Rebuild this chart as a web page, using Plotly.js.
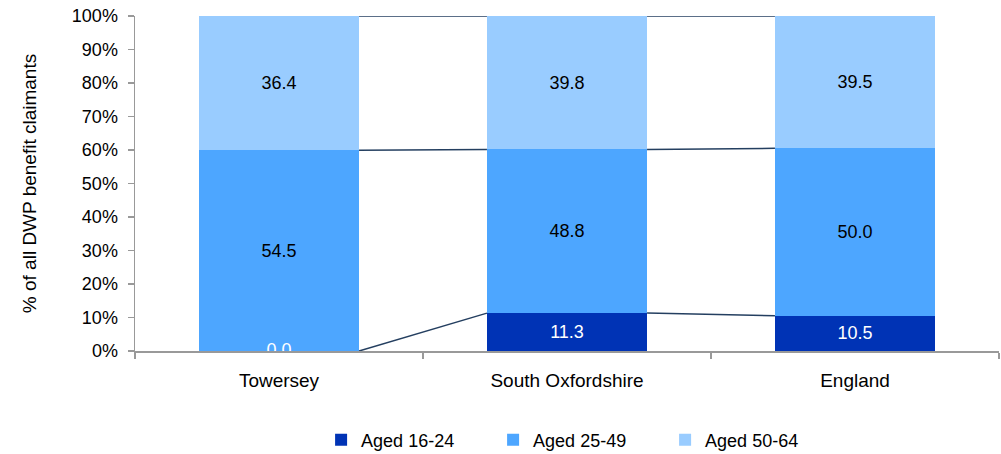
<!DOCTYPE html>
<html>
<head>
<meta charset="utf-8">
<script src="https://cdn.plot.ly/plotly-3.0.1.min.js"></script>
<style>html,body{margin:0;padding:0;background:#fff;}#chart{width:1001px;height:454px;}</style>
</head>
<body>
<div id="chart"></div>
<script>
const categories = ["Towersey", "South Oxfordshire", "England"];
const seriesNames = ["Aged 16-24", "Aged 25-49", "Aged 50-64"];
const aged16_24 = [0.0, 11.3, 10.5];
const aged25_49 = [54.5, 48.8, 50.0];
const aged50_64 = [36.4, 39.8, 39.5];
const yTickVals = [0, 10, 20, 30, 40, 50, 60, 70, 80, 90, 100];

const colors = ["#0033B5", "#4DA6FF", "#99CCFF"];
const textColors = ["#FFFFFF", "#000000", "#000000"];
const series = [aged16_24, aged25_49, aged50_64];
const xs = categories.map((c, i) => i);
const barWidth = 0.556;
const FONT = '"Liberation Sans", Arial, sans-serif';
const FS = 18;

const traces = [];
series.forEach((vals, s) => {
  traces.push({
    type: 'bar', x: xs, y: vals, name: seriesNames[s], width: barWidth,
    marker: {color: colors[s], line: {width: 0}},
    text: vals.map(v => v.toFixed(1)), textposition: 'inside', insidetextanchor: 'middle',
    textangle: 0, constraintext: 'none',
    textfont: {color: textColors[s], size: FS, family: FONT},
    hoverinfo: 'skip', cliponaxis: true
  });
});

const totals = xs.map(i => series.reduce((a, v) => a + v[i], 0));
const cum = series.map((vals, s) => xs.map(i => {
  let sum = 0; for (let k = 0; k <= s; k++) sum += series[k][i];
  return sum / totals[i] * 100;
}));

// labels for empty segments (bar text is not drawn for them)
series.forEach((vals, s) => {
  const zx = [], zy = [], zt = [];
  vals.forEach((v, i) => { if (v === 0) { zx.push(i); zy.push(s === 0 ? 0 : cum[s-1][i]); zt.push(v.toFixed(1)); } });
  if (zx.length) traces.push({type: 'scatter', mode: 'text', x: zx, y: zy, text: zt,
    textfont: {color: textColors[s], size: FS, family: FONT}, showlegend: false, hoverinfo: 'skip', cliponaxis: true});
});

// series lines
cum.forEach((c, s) => {
  const lx = [], ly = [];
  for (let i = 0; i < xs.length - 1; i++) {
    lx.push(xs[i] + barWidth / 2, xs[i + 1] - barWidth / 2, null);
    ly.push(c[i], c[i + 1], null);
  }
  traces.push({type: 'scatter', mode: 'lines', x: lx, y: ly, line: {color: '#243F60', width: 1.5},
    showlegend: false, hoverinfo: 'skip', cliponaxis: false});
});

const layout = {
  width: 1001, height: 454,
  margin: {l: 135, r: 2, t: 16, b: 103, autoexpand: false},
  barmode: 'stack', barnorm: 'percent',
  paper_bgcolor: '#fff', plot_bgcolor: '#fff',
  font: {family: FONT, size: FS, color: '#000'},
  xaxis: {
    range: [-0.5, 2.5], tickvals: xs, ticktext: categories, ticks: '',
    showline: true, linecolor: '#999999', linewidth: 1.5, showgrid: false, zeroline: false,
    ticklabelstandoff: 12,
    minor: {tickvals: [-0.5, 0.5, 1.5, 2.5], ticks: 'outside', ticklen: 6, tickcolor: '#999999', tickwidth: 1.5, showgrid: false},
    tickfont: {size: 19, family: FONT, color: '#000'}
  },
  yaxis: {
    range: [0, 100], tickvals: yTickVals, ticktext: yTickVals.map(v => v + '%'),
    ticks: 'outside', ticklen: 6, tickcolor: '#999999', tickwidth: 1.5,
    showline: true, linecolor: '#999999', linewidth: 1.5, showgrid: false, zeroline: false,
    ticklabelstandoff: 6,
    tickfont: {size: FS, family: FONT, color: '#000'},
    title: {text: '% of all DWP benefit claimants', font: {size: 19, family: FONT, color: '#000'}, standoff: 30}
  },
  legend: {orientation: 'h', x: 0.514, xanchor: 'center', y: -0.266, yanchor: 'middle',
    traceorder: 'normal', font: {size: FS, family: FONT, color: '#000'}, entrywidth: 127},
  showlegend: true
};

Plotly.newPlot('chart', traces, layout, {displayModeBar: false, staticPlot: true});
</script>
</body>
</html>
